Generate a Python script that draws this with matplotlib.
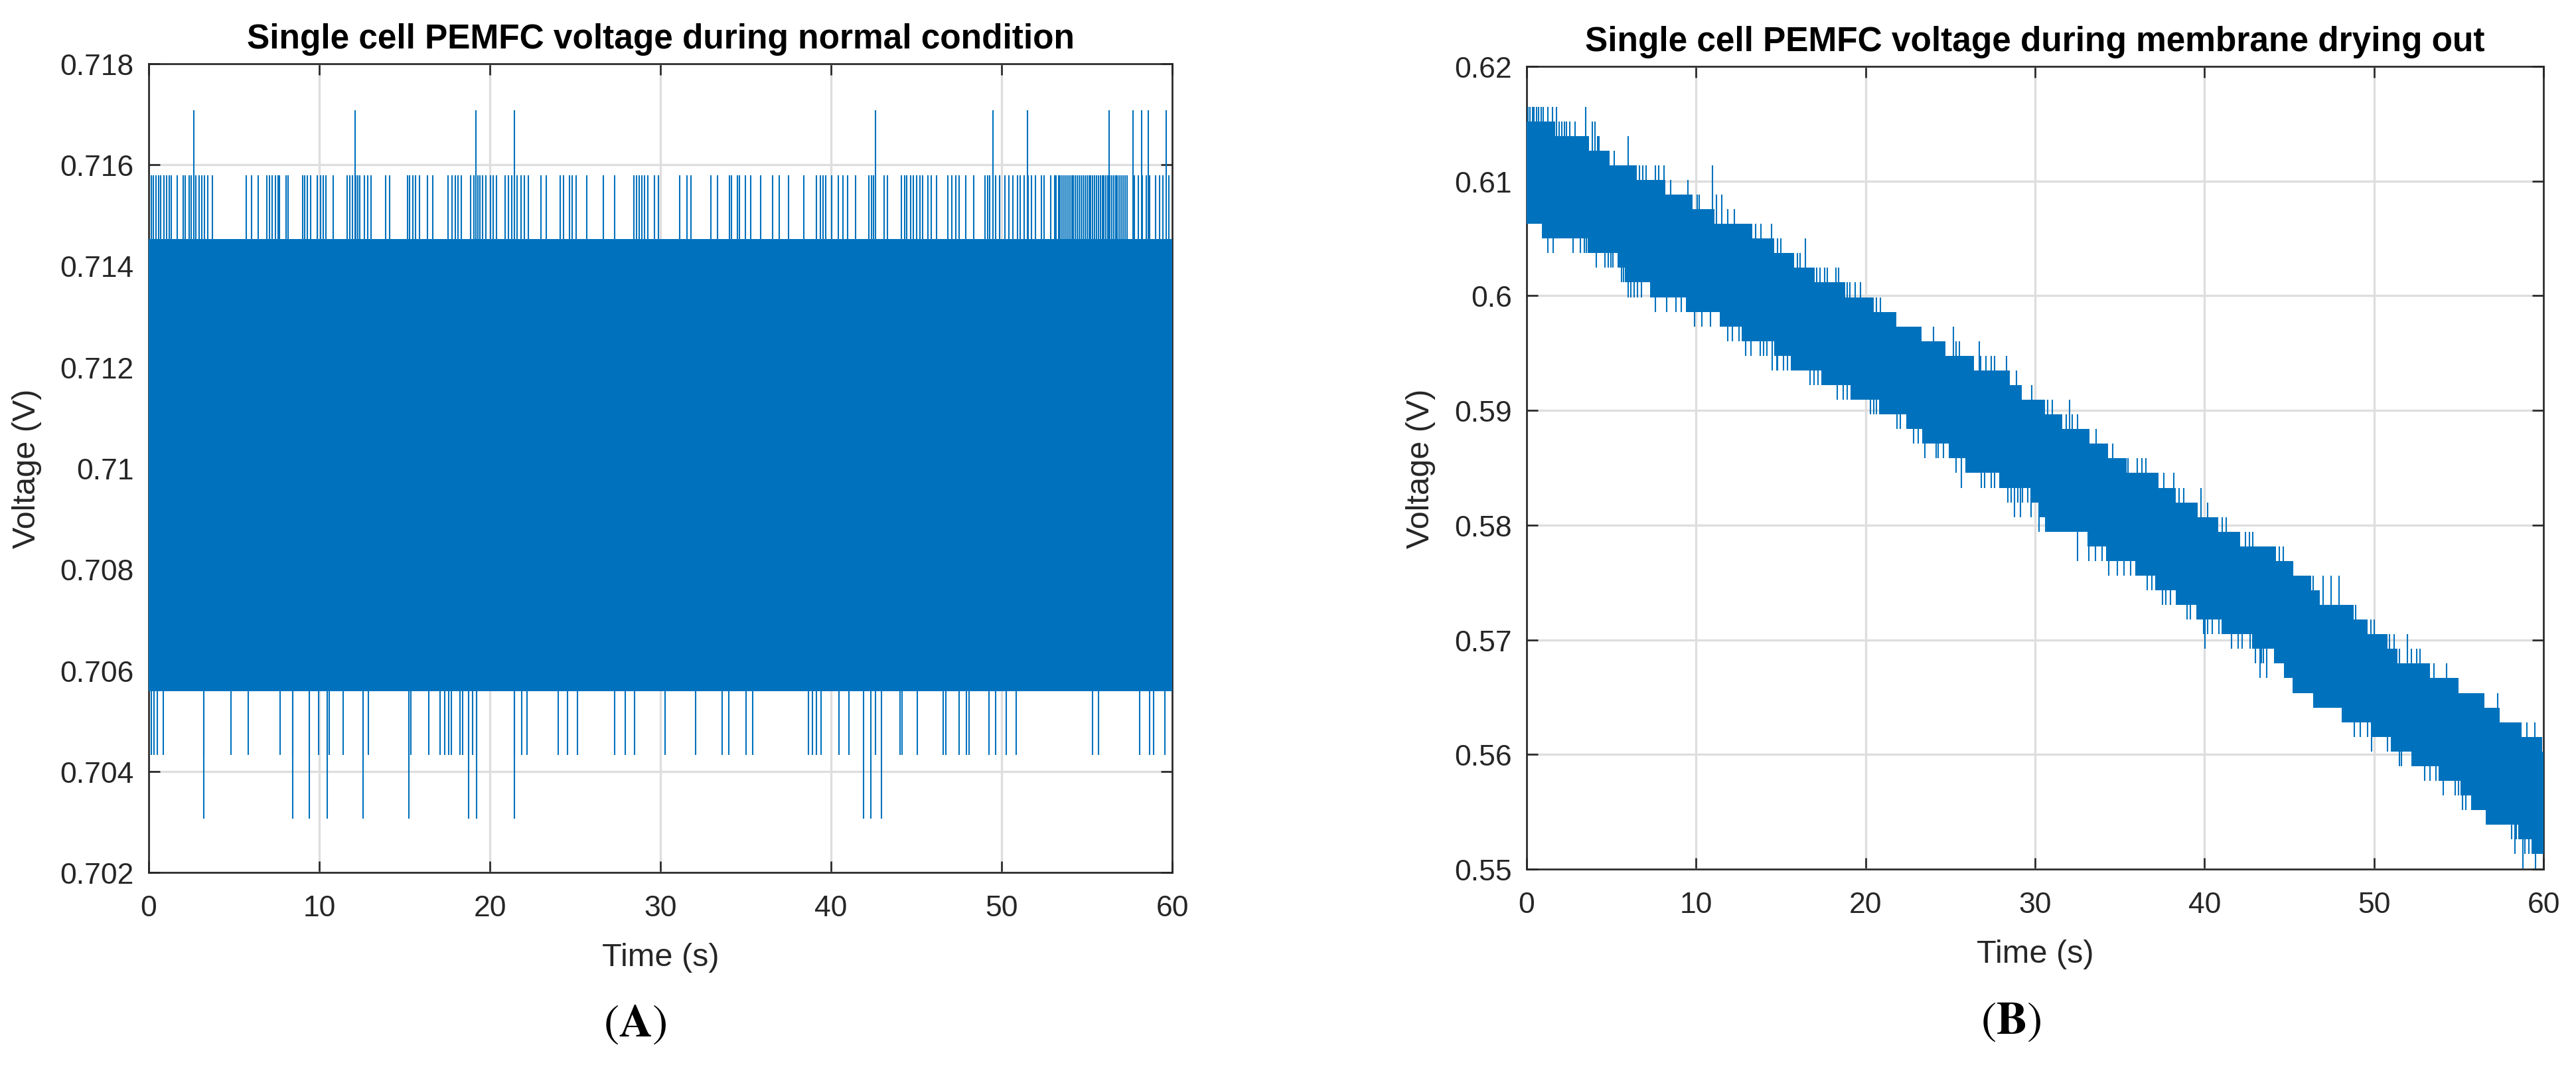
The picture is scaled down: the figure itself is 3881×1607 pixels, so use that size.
import numpy as np
import matplotlib
matplotlib.use('Agg')
import matplotlib.pyplot as plt

# ---- panel A: normal condition (quantised voltage, band + spikes) ----
a_band_low = 0.70559
a_band_high = 0.71453
a_lvl_up1 = 0.71579
a_lvl_up2 = 0.71708
a_lvl_dn1 = 0.70432
a_lvl_dn2 = 0.70306

a_up1_t = [0.15, 0.27, 0.42, 0.57, 0.72, 0.89, 1.04, 1.21, 1.34, 1.66, 2.01, 2.13, 2.38, 2.5, 2.63,
           2.75, 2.95, 3.12, 3.27, 3.45, 3.74, 5.73, 6.03, 6.42, 6.92, 7.07, 7.24, 7.42, 7.57, 7.67,
           8.04, 8.16, 9.01, 9.15, 9.3, 9.48, 9.9, 10.07, 10.22, 10.4, 10.82, 11.64, 11.79, 11.93,
           12.13, 12.26, 12.38, 12.63, 12.83, 13.03, 13.9, 14.12, 15.16, 15.31, 15.48, 15.66, 15.86,
           16.35, 16.65, 17.54, 17.79, 17.97, 18.14, 18.34, 18.88, 19.08, 19.28, 19.4, 19.58, 19.75,
           20.02, 20.2, 20.37, 20.89, 21.07, 21.27, 21.44, 21.61, 21.81, 22.01, 22.26, 22.98, 23.3,
           24.12, 24.3, 24.67, 24.84, 25.04, 25.66, 26.65, 27.32, 28.44, 28.59, 28.76, 28.91, 29.06,
           29.26, 29.63, 29.88, 31.12, 31.55, 31.77, 32.95, 33.36, 34.03, 34.16, 34.5, 34.61, 34.96,
           35.3, 35.86, 36.57, 36.97, 37.51, 38.4, 39.12, 39.36, 39.52, 39.7, 40.03, 40.41, 40.7,
           40.97, 41.42, 42.22, 42.38, 42.49, 43.09, 43.32, 44.1, 44.3, 44.43, 44.66, 44.83, 45.01,
           45.21, 45.35, 45.68, 45.88, 46.17, 46.84, 47.07, 47.29, 47.51, 47.89, 48.36, 49.03, 49.19,
           49.3, 49.64, 49.86, 50.19, 50.42, 50.64, 50.93, 51.09, 51.31, 51.53, 51.76, 51.98, 52.31,
           52.49, 52.87, 53.1, 53.2, 53.32, 53.43, 53.54, 53.65, 53.77, 53.88, 53.99, 54.1, 54.21,
           54.32, 54.44, 54.55, 54.66, 54.77, 54.88, 55.0, 55.11, 55.22, 55.33, 55.44, 55.55, 55.66,
           55.78, 55.89, 56.0, 56.11, 56.22, 56.34, 56.45, 56.56, 56.67, 56.78, 56.89, 57.0, 57.12,
           57.23, 57.34, 57.79, 58.01, 58.23, 58.46, 58.68, 59.01, 59.24, 59.46, 59.8]
a_up2_t = [2.63, 12.1, 19.2, 21.45, 42.6, 49.5, 51.5, 56.3, 57.7, 58.2, 58.6, 59.65]
a_dn1_t = [0.17, 0.32, 0.52, 0.86, 3.25, 4.84, 5.83, 7.72, 8.46, 9.43, 9.95, 10.45, 10.59, 11.41,
           12.55, 12.88, 15.26, 15.36, 16.43, 17.1, 17.34, 17.59, 17.74, 18.26, 18.41, 18.76, 19.0,
           19.23, 21.42, 21.86, 22.19, 24.0, 24.55, 25.12, 27.32, 27.94, 28.49, 30.27, 32.06, 33.62,
           34.0, 35.03, 35.39, 38.69, 38.92, 39.14, 39.43, 40.48, 41.06, 42.6, 44.05, 44.16, 45.06,
           46.58, 46.73, 47.51, 47.92, 48.07, 49.25, 49.63, 50.26, 50.86, 55.33, 55.66, 58.08,
           58.68, 58.9, 59.57]
a_dn2_t = [3.25, 8.46, 9.43, 10.45, 12.55, 15.26, 18.76, 19.23, 21.42, 41.92, 42.34, 42.97]

# ---- panel B: membrane drying out (level index k -> V = b_level0 - k*b_step) ----
b_level0 = 0.61649
b_step = 0.001278

b_top_t = [0, 1.7, 3.7, 4.9, 6.5, 8.2, 9.8, 11.1, 13.3, 14.6, 15.8, 17.0, 18.8, 20.5, 21.8, 23.3,
           24.7, 26.4, 28.5, 29.2, 30.5, 31.6, 33.2, 34.3, 35.4, 37.3, 38.3, 39.6, 40.8, 42.1, 44.2,
           45.2, 46.3, 46.8, 48.7, 49.6, 50.8, 51.4, 53.3, 55.0, 56.5, 57.4, 58.7, 59.9]
b_top_k = [1, 2, 3, 4, 5, 6, 7, 8, 9, 10, 11, 12, 13, 14, 15, 16, 17, 18, 19, 20, 21, 22, 23, 24,
           25, 26, 27, 28, 29, 30, 31, 32, 33, 34, 35, 36, 37, 38, 39, 40, 41, 42, 43, 44]
b_bot_t = [0, 0.9, 3.7, 5.35, 5.8, 7.3, 9.4, 11.4, 12.7, 14.6, 15.6, 17.4, 19.1, 20.8, 22.4, 23.4,
           24.9, 25.9, 27.9, 29.8, 30.2, 30.6, 33.1, 34.2, 36.0, 37.1, 38.3, 39.5, 41.0, 42.8, 44.1,
           44.7, 45.2, 46.4, 48.1, 49.8, 51.0, 52.2, 53.8, 55.1, 55.8, 56.6, 58.5, 59.3]
b_bot_k = [8, 9, 10, 11, 12, 13, 14, 15, 16, 17, 18, 19, 20, 21, 22, 23, 24, 25, 26, 27, 28, 29, 30,
           31, 32, 33, 34, 35, 36, 37, 38, 39, 40, 41, 42, 43, 44, 45, 46, 47, 48, 49, 50, 51]

b_up_t = [0.1, 0.2, 0.35, 0.45, 0.6, 0.7, 0.85, 1.0, 1.24, 1.54, 1.76, 3.5,
          1.93, 2.09, 2.22, 2.35, 2.55, 2.87, 3.9, 4.05, 4.18, 4.28, 6.0, 5.16,
          6.66, 6.85, 7.05, 7.6, 7.8, 8.1, 10.97, 8.5, 9.53, 10.05, 10.2, 11.2, 11.5,
          11.88, 12.27, 13.5, 13.84, 14.47, 14.82, 15.0, 16.45, 15.99, 16.12,
          17.1, 17.3, 17.6, 17.76, 18.25, 18.4, 18.9, 19.06, 19.39, 19.71, 20.63, 20.89,
          24.02, 25.2, 25.33, 25.52, 26.7, 26.8, 27.09, 27.42, 27.6, 28.33, 28.92, 29.8,
          30.55, 30.75, 31.0, 32.05, 31.86, 32.19, 32.51, 33.62, 34.6, 35.5, 36.04, 36.3, 36.55,
          37.58, 38.19, 38.49, 38.78, 39.8, 40.2, 41.06, 41.26, 42.43, 42.63, 42.83, 44.4, 44.65,
          44.8, 45.0, 45.2, 46.41, 47.0, 47.46, 47.92, 48.77, 48.9, 49.8, 50.0,
          50.9, 51.2, 51.97, 51.5, 52.2, 52.5, 52.7, 53.54, 54.26, 57.3, 59.0, 59.5]
b_up_k = [0, 0, 0, 0, 0, 0, 0, 0, 0, 0, 0, 0,
          1, 1, 1, 1, 1, 1, 1, 1, 2, 2, 2, 3,
          4, 4, 4, 4, 4, 4, 4, 5, 5, 6, 6, 6, 6,
          7, 7, 8, 8, 8, 9, 9, 9, 10, 10,
          11, 11, 11, 11, 11, 11, 12, 12, 12, 12, 13, 13,
          15, 15, 16, 16, 16, 17, 17, 17, 17, 17, 18, 19,
          20, 20, 20, 20, 21, 21, 21, 22, 23, 24, 24, 24, 24,
          25, 25, 26, 26, 26, 27, 28, 28, 29, 29, 29, 30, 30,
          31, 31, 31, 32, 32, 32, 32, 34, 34, 35, 35,
          36, 36, 36, 37, 37, 37, 37, 38, 38, 40, 42, 42]
b_dn_t = [0.95, 1.1, 1.24, 1.57, 2.74, 3.16, 3.4, 3.53, 3.66,
          4.11, 4.61, 4.83, 4.96, 5.09, 5.61, 5.74, 6.0, 6.14, 6.33, 6.53, 6.79,
          7.6, 8.27, 8.81, 9.14, 9.53, 9.92, 10.34, 10.86,
          11.88, 12.14, 12.53, 12.92, 13.25, 13.77, 13.97, 14.17, 14.49,
          14.75, 14.82, 15.14, 15.4, 16.71, 16.97, 17.21, 18.34, 18.67, 18.93,
          20.3, 20.5, 20.63, 21.87, 22.06, 22.82, 23.11, 23.37,
          23.5, 24.15, 24.28, 24.61, 24.94, 25.33, 25.65,
          26.83, 27.02, 27.42, 27.6, 27.94, 28.4, 28.6, 29.0, 29.24, 29.57,
          28.79, 29.12, 29.77, 30.22, 32.51, 33.17, 33.56, 33.95,
          34.34, 34.86, 35.25, 35.64, 35.97, 36.62, 36.88, 37.53, 37.73, 37.99,
          38.97, 39.17, 39.95, 40.02, 40.2, 40.47, 40.86, 41.58, 41.97, 42.23, 42.69,
          43.02, 43.35, 43.48, 43.28, 43.67, 45.6, 46.0, 46.4, 46.9, 47.2, 47.6,
          48.1, 48.5, 48.85, 49.2, 49.6, 49.87, 50.8, 51.5, 51.6,
          53.0, 53.3, 53.67, 54.1, 54.8, 55.0, 55.2, 55.4, 55.75,
          58.1, 58.4, 58.7, 58.3, 58.9, 59.15, 58.8, 59.53]
b_dn_k = [9, 9, 10, 10, 10, 10, 10, 10, 10,
          11, 11, 11, 11, 11, 12, 12, 13, 13, 13, 13, 13,
          14, 14, 14, 14, 14, 15, 15, 15,
          16, 16, 16, 17, 17, 17, 17, 17, 18,
          18, 18, 18, 18, 19, 19, 19, 20, 20, 20,
          21, 21, 21, 22, 22, 23, 23, 23,
          24, 24, 24, 24, 24, 25, 26,
          26, 26, 26, 26, 26, 27, 27, 27, 27, 27,
          28, 28, 28, 29, 31, 31, 31, 31,
          32, 32, 32, 32, 32, 33, 33, 34, 34, 34,
          35, 35, 36, 37, 36, 36, 36, 37, 37, 37, 37,
          38, 38, 38, 39, 39, 40, 40, 41, 41, 41, 41,
          42, 42, 43, 43, 43, 44, 44, 45, 45,
          46, 46, 46, 47, 47, 47, 48, 48, 48,
          50, 50, 50, 51, 51, 51, 52, 52]

a_yticks = [0.702, 0.704, 0.706, 0.708, 0.71, 0.712, 0.714, 0.716, 0.718]
b_yticks = [0.55, 0.56, 0.57, 0.58, 0.59, 0.6, 0.61, 0.62]
x_ticks = [0, 10, 20, 30, 40, 50, 60]

blue = '#0072BD'
dark = '#262626'
plt.rcParams['font.family'] = ['Liberation Sans', 'DejaVu Sans']

fig = plt.figure(figsize=(38.81, 16.08), dpi=100)
ax_a = fig.add_axes([0.0577, 0.1822, 0.3974, 0.7575])
ax_b = fig.add_axes([0.5926, 0.1853, 0.3948, 0.7519])


def style(ax, yticks, title):
    ax.set_xlim(0, 60)
    ax.set_ylim(yticks[0], yticks[-1])
    ax.set_xticks(x_ticks)
    ax.set_xticklabels([str(v) for v in x_ticks])
    ax.set_yticks(yticks)
    ax.set_yticklabels([f'{v:g}' for v in yticks])
    ax.tick_params(direction='in', top=True, right=True, length=12, width=1.9,
                   colors=dark, labelsize=32)
    ax.tick_params(axis='x', pad=24)
    ax.tick_params(axis='y', pad=16)
    ax.grid(True, color='#dedede', linewidth=2.4)
    ax.set_axisbelow(True)
    for s in ax.spines.values():
        s.set_linewidth(1.9)
        s.set_color(dark)
    ax.set_title(title, fontsize=37, fontweight='bold', color='black', pad=17)
    ax.set_xlabel('Time (s)', fontsize=35, color=dark, labelpad=22)
    ax.set_ylabel('Voltage (V)', fontsize=35, color=dark, labelpad=20)


# panel A
ax_a.fill_between([0, 60], a_band_low, a_band_high, color=blue, linewidth=0, zorder=3)
ax_a.vlines(a_up1_t, a_band_high, a_lvl_up1, color=blue, linewidth=1.5, zorder=3)
ax_a.vlines(a_up2_t, a_band_high, a_lvl_up2, color=blue, linewidth=1.5, zorder=3)
ax_a.vlines(a_dn1_t, a_lvl_dn1, a_band_low, color=blue, linewidth=1.5, zorder=3)
ax_a.vlines(a_dn2_t, a_lvl_dn2, a_band_low, color=blue, linewidth=1.5, zorder=3)
style(ax_a, a_yticks, 'Single cell PEMFC voltage during normal condition')

# panel B
def level_at(times, levels, t):
    idx = np.searchsorted(times, t, side='right') - 1
    return np.asarray(levels)[np.clip(idx, 0, len(levels) - 1)]

grid_t = np.unique(np.concatenate([b_top_t, b_bot_t, [60]]))
hi = b_level0 - level_at(b_top_t, b_top_k, grid_t) * b_step
lo = b_level0 - level_at(b_bot_t, b_bot_k, grid_t) * b_step
ax_b.fill_between(grid_t, lo, hi, step='post', color=blue, linewidth=0, zorder=3)

up_t = np.array(b_up_t)
up_base = b_level0 - level_at(b_top_t, b_top_k, up_t) * b_step
ax_b.vlines(up_t, up_base, b_level0 - np.array(b_up_k) * b_step, color=blue, linewidth=1.5, zorder=3)
dn_t = np.array(b_dn_t)
dn_base = b_level0 - level_at(b_bot_t, b_bot_k, dn_t) * b_step
ax_b.vlines(dn_t, b_level0 - np.array(b_dn_k) * b_step, dn_base, color=blue, linewidth=1.5, zorder=3)
style(ax_b, b_yticks, 'Single cell PEMFC voltage during membrane drying out')

fig.text(0.2466, 0.0404, r'$(\mathbf{A})$', fontsize=50, math_fontfamily='stix',
         ha='center', va='center', color='black')
fig.text(0.7807, 0.0429, r'$(\mathbf{B})$', fontsize=50, math_fontfamily='stix',
         ha='center', va='center', color='black')

fig.savefig('out.png', dpi=100)
